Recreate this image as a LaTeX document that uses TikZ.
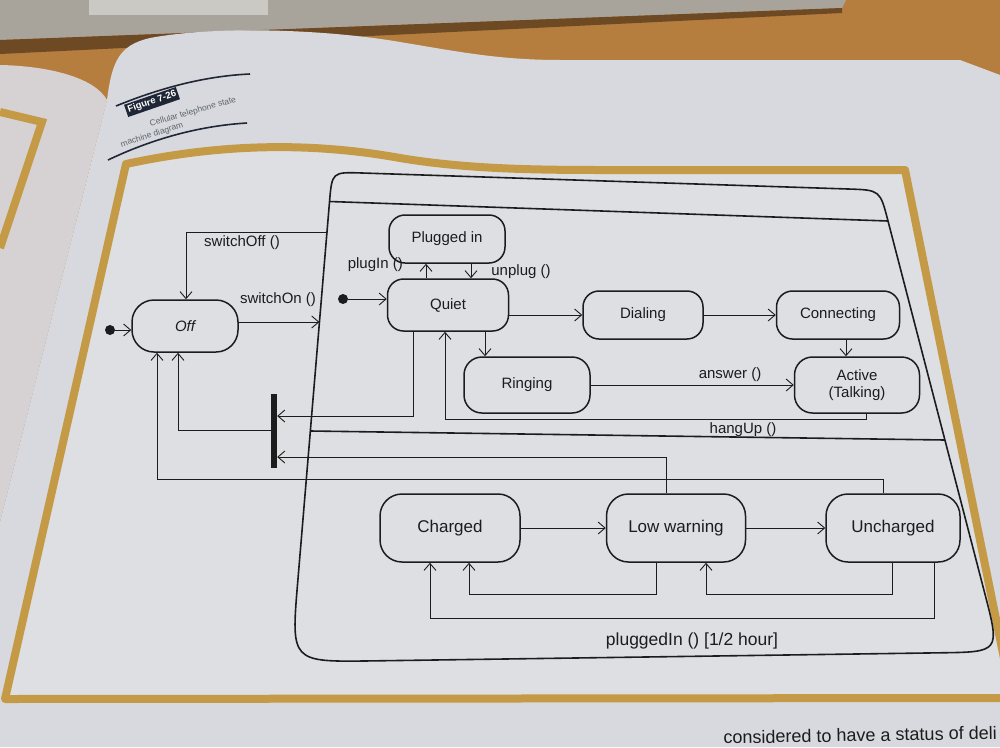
\documentclass[tikz,border=0pt]{standalone}
\usepackage{fontspec}
\setmainfont{Liberation Sans}
\usetikzlibrary{arrows.meta}
\definecolor{wood}{HTML}{B67E3E}
\definecolor{woodDark}{HTML}{6E4A24}
\definecolor{laptop}{HTML}{A8A49C}
\definecolor{laptopLt}{HTML}{CBC9C4}
\definecolor{leftpage}{HTML}{D6D2D4}
\definecolor{page}{HTML}{D7D9DE}
\definecolor{inner}{HTML}{DEDFE2}
\definecolor{gold}{HTML}{C49A46}
\definecolor{ink}{HTML}{1C1C1E}
\definecolor{capnavy}{HTML}{1F2736}
\definecolor{capgrey}{HTML}{5F656E}
\begin{document}
\begin{tikzpicture}[x=1pt,y=-1pt,
  state/.style={draw=ink, line width=1.5pt, fill=inner, text=ink, align=center, inner sep=0pt, rounded corners=16pt},
  upstate/.style={state, font=\fontsize{15}{17}\selectfont},
  lowstate/.style={state, font=\fontsize{17}{20}\selectfont, minimum height=68pt, rounded corners=22pt},
  conn/.style={draw=ink, line width=0.9pt, -{Straight Barb[length=7pt,width=12pt]}},
  lbl/.style={text=ink, inner sep=0pt, font=\fontsize{15}{17}\selectfont},
  initdot/.style={circle, fill=ink, inner sep=0pt, minimum size=10pt},
  outline/.style={draw=ink, line width=1.6pt},
  captext/.style={text=capgrey, font=\fontsize{8.5}{10}\selectfont, inner sep=0pt},
]
\useasboundingbox (0,0) rectangle (1000,747);
% photo surroundings
\fill[wood] (0,0) rectangle (1000,747);
\fill[laptop] (0,0) -- (846,0) -- (842,8) -- (0,40) -- cycle;
\fill[woodDark] (0,40) -- (842,8) -- (842,13) -- (0,54) -- cycle;
\fill[laptopLt] (89,0) rectangle (268,15);
\fill[leftpage] (0,65) .. controls (50,66) and (95,78) .. (107,100) -- (0,522) -- cycle;
\draw[gold, line width=8pt] (0,112) -- (42,122) -- (0,248);
\fill[page] (0,522) -- (107,100) .. controls (112,60) and (120,45) .. (150,38)
  .. controls (220,25) and (330,30) .. (400,42) .. controls (460,52) and (500,60) .. (560,60)
  -- (960,60) -- (1000,75) -- (1000,747) -- (0,747) -- cycle;
% gold frame
\path[fill=inner, draw=gold, line width=8pt, line join=round] (126,164) .. controls (210,146) and (300,140) .. (400,158)
  .. controls (460,168) and (520,170) .. (600,170) -- (905,170) -- (1012,698) -- (5,699) -- cycle;
% caption
\draw[capnavy, line width=1.6pt] (116,106) .. controls (160,88) and (205,76) .. (250,74);
\draw[capnavy, line width=1.6pt] (108,160) .. controls (150,140) and (197,126) .. (247,123);
\node[fill=capnavy, text=white, rotate=19, font=\bfseries\fontsize{9.5}{10}\selectfont, inner sep=2pt] (fig) at (152,102) {Figure 7-26};
\node[captext, rotate=16] (cap1) at (193,112) {Cellular telephone state};
\node[captext, rotate=18] (cap2) at (152,135) {machine diagram};
% composite state
\draw[outline, fill=inner] (329.5,201.9) .. controls (332,172) .. (362,173) -- (848,189) .. controls (880,190) .. (888,221)
  -- (984.9,593.9) .. controls (1000,652) .. (940,652.8) -- (371,660.9) .. controls (291,662) .. (297.7,582.3) -- cycle;
\draw[outline] (329.5,201.5) -- (888,221);
\draw[outline] (310.3,431) -- (944.9,440);
% states
\node[upstate, font=\fontsize{15}{17}\selectfont\itshape, minimum width=106pt, minimum height=52pt, rounded corners=22pt] (off) at (185,326) {Off};
\node[initdot] (init0) at (110,330) {};
\node[upstate, minimum width=116pt, minimum height=48pt] (plugged) at (447,239) {Plugged in};
\node[upstate, minimum width=121pt, minimum height=52pt] (quiet) at (448,305) {Quiet};
\node[initdot] (init1) at (343,299) {};
\node[upstate, minimum width=120pt, minimum height=48pt] (dialing) at (643,315) {Dialing};
\node[upstate, minimum width=123pt, minimum height=48pt] (connecting) at (838,315) {Connecting};
\node[upstate, minimum width=126pt, minimum height=56pt, rounded corners=18pt] (ringing) at (527,385) {Ringing};
\node[upstate, minimum width=125pt, minimum height=56pt, rounded corners=18pt] (active) at (857,385) {Active\\(Talking)};
\node[lowstate, minimum width=140pt] (charged) at (450,528) {Charged};
\node[lowstate, minimum width=139pt] (lowwarn) at (676,528) {Low warning};
\node[lowstate, minimum width=134pt] (uncharged) at (893,528) {Uncharged};
\node[fill=ink, inner sep=0pt, minimum width=6pt, minimum height=74pt] (bar) at (274,431) {};
% coordinates
\coordinate (sonE) at (319.4,322);
\coordinate (soffS) at (327,232);
\coordinate (soffX) at (186,0);
\coordinate (xPI) at (426,0);
\coordinate (xUP) at (471,0);
\coordinate (xCA) at (846,0);
\coordinate (xQR) at (485,0);
\coordinate (xHA) at (866,0);
\coordinate (xHQ) at (445,0);
\coordinate (yHU) at (0,419);
\coordinate (xQB) at (413,0);
\coordinate (yQB) at (0,416);
\coordinate (yBO) at (0,430);
\coordinate (xBO) at (178,0);
\coordinate (xLB) at (666,0);
\coordinate (yLB) at (0,457);
\coordinate (xUO) at (883,0);
\coordinate (yUO) at (0,479);
\coordinate (xUO2) at (157,0);
\coordinate (xLC) at (656,0);
\coordinate (xLC2) at (469,0);
\coordinate (yL) at (0,594);
\coordinate (xUL) at (892,0);
\coordinate (xUL2) at (706,0);
\coordinate (xUC) at (934,0);
\coordinate (xUC2) at (430,0);
\coordinate (yUC) at (0,618);
% transitions
\draw[conn] (init0.east) -- (init0 -| off.west);
\draw[conn] (off.east |- sonE) -- (sonE);
\node[lbl] (lSon) at (278,300) {switchOn ()};
\draw[conn] (soffS) -| (off.north -| soffX);
\node[lbl] (lSoff) at (242,243) {switchOff ()};
\draw[conn] (init1.east) -- (init1 -| quiet.west);
\draw[conn] (quiet.north -| xPI) -- (plugged.south -| xPI);
\draw[conn] (plugged.south -| xUP) -- (quiet.north -| xUP);
\node[lbl, anchor=east] (lPI) at (403,265) {plugIn ()};
\node[lbl] (lUP) at (521,272) {unplug ()};
\draw[conn] (quiet.east |- dialing.west) -- (dialing.west);
\draw[conn] (dialing.east) -- (connecting.west);
\draw[conn] (connecting.south -| xCA) -- (active.north -| xCA);
\draw[conn] (quiet.south -| xQR) -- (ringing.north -| xQR);
\draw[conn] (ringing.east) -- (active.west);
\node[lbl] (lAns) at (730,375) {answer ()};
\draw[conn] (active.south -| xHA) |- (yHU -| xHQ) -- (quiet.south -| xHQ);
\node[lbl] (lHU) at (743,430) {hangUp ()};
\draw[conn] (quiet.south -| xQB) |- (bar.east |- yQB);
\draw[conn] (bar.west |- yBO) -| (off.south -| xBO);
\draw[conn] (lowwarn.north -| xLB) |- (bar.east |- yLB);
\draw[conn] (uncharged.north -| xUO) |- (yUO -| xUO2) -- (off.south -| xUO2);
\draw[conn] (charged.east) -- (lowwarn.west);
\draw[conn] (lowwarn.east) -- (uncharged.west);
\draw[conn] (lowwarn.south -| xLC) |- (yL -| xLC2) -- (charged.south -| xLC2);
\draw[conn] (uncharged.south -| xUL) |- (yL -| xUL2) -- (lowwarn.south -| xUL2);
\draw[conn] (uncharged.south -| xUC) |- (yUC -| xUC2) -- (charged.south -| xUC2);
\node[lbl, font=\fontsize{17.5}{20}\selectfont] (lPlug) at (692,641) {pluggedIn () [1/2 hour]};
% running text at the foot of the page
\node[text=ink, font=\fontsize{18}{20}\selectfont, inner sep=0pt, anchor=base east, rotate=1] (foot) at (997,739) {considered to have a status of deli};
\end{tikzpicture}
\end{document}
